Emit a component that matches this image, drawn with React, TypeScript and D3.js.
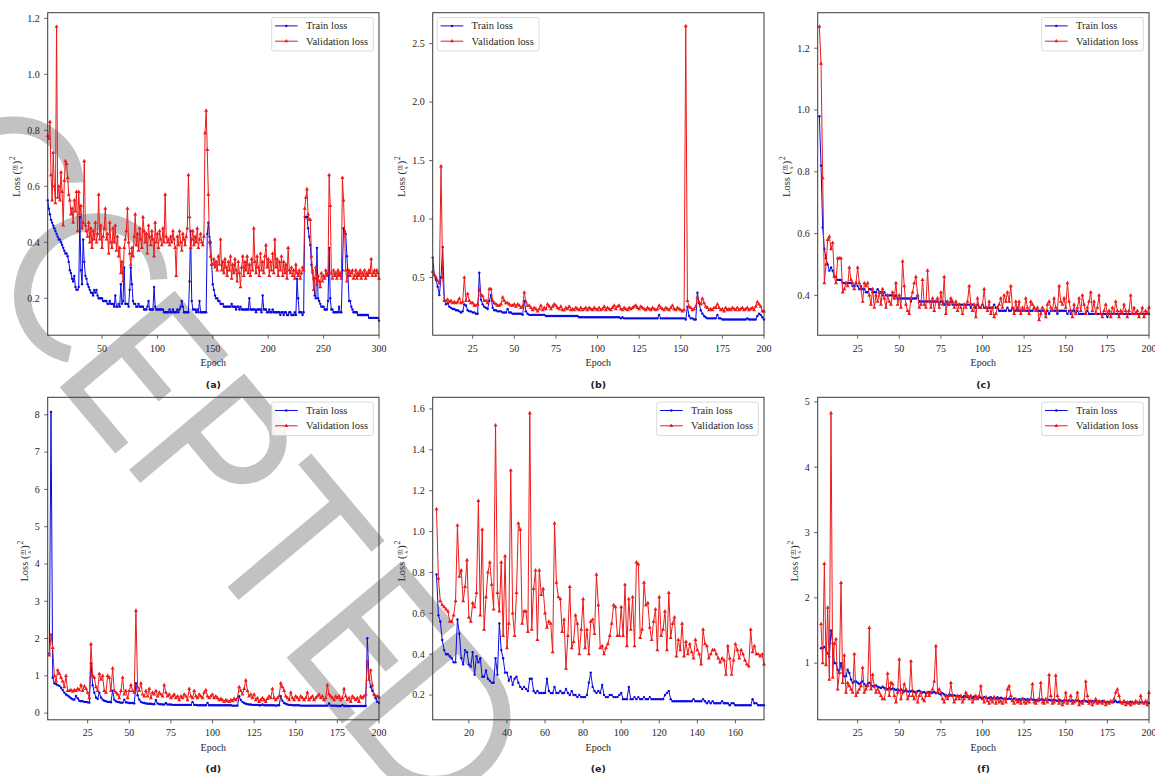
import * as d3 from "d3";

// ---- (a) 300 epochs, starting at epoch 1
const trainA = [
  0.55,0.52,0.50,0.48,0.47,0.46,0.45,0.44,0.43,0.42,
  0.41,0.41,0.40,0.39,0.38,0.37,0.36,0.36,0.35,0.33,
  0.30,0.29,0.27,0.26,0.28,0.24,0.23,0.23,0.24,0.49,
  0.30,0.25,0.41,0.33,0.28,0.27,0.25,0.24,0.23,0.22,
  0.22,0.21,0.23,0.22,0.23,0.21,0.20,0.20,0.20,0.20,
  0.19,0.19,0.19,0.19,0.18,0.18,0.19,0.18,0.18,0.18,
  0.17,0.21,0.17,0.17,0.18,0.17,0.25,0.18,0.19,0.31,
  0.18,0.18,0.18,0.17,0.23,0.31,0.25,0.19,0.18,0.18,
  0.17,0.17,0.18,0.17,0.17,0.17,0.17,0.16,0.16,0.16,
  0.17,0.19,0.16,0.16,0.16,0.16,0.24,0.17,0.16,0.16,
  0.16,0.16,0.16,0.16,0.16,0.15,0.15,0.15,0.15,0.15,
  0.16,0.15,0.15,0.16,0.15,0.15,0.15,0.16,0.15,0.16,
  0.17,0.19,0.17,0.15,0.15,0.15,0.15,0.15,0.26,0.44,
  0.19,0.16,0.16,0.16,0.15,0.16,0.15,0.19,0.15,0.15,
  0.15,0.15,0.15,0.15,0.43,0.47,0.42,0.40,0.32,0.25,
  0.23,0.21,0.20,0.20,0.19,0.19,0.18,0.18,0.18,0.17,
  0.17,0.17,0.17,0.17,0.17,0.17,0.18,0.17,0.17,0.17,
  0.16,0.17,0.17,0.16,0.17,0.16,0.16,0.16,0.16,0.16,
  0.16,0.16,0.20,0.16,0.16,0.16,0.16,0.16,0.15,0.16,
  0.16,0.16,0.16,0.15,0.21,0.16,0.16,0.16,0.15,0.15,
  0.16,0.15,0.15,0.16,0.15,0.15,0.15,0.15,0.15,0.15,
  0.14,0.15,0.15,0.14,0.15,0.15,0.14,0.14,0.15,0.15,
  0.14,0.14,0.14,0.15,0.14,0.27,0.20,0.15,0.15,0.15,
  0.14,0.15,0.49,0.49,0.49,0.45,0.42,0.39,0.32,0.29,
  0.27,0.21,0.20,0.38,0.20,0.19,0.18,0.17,0.17,0.17,
  0.16,0.16,0.16,0.19,0.38,0.20,0.16,0.16,0.15,0.15,
  0.15,0.15,0.15,0.17,0.15,0.15,0.30,0.45,0.44,0.43,
  0.35,0.28,0.19,0.19,0.17,0.16,0.15,0.15,0.15,0.15,
  0.14,0.14,0.14,0.14,0.14,0.14,0.14,0.14,0.14,0.14,
  0.13,0.13,0.13,0.13,0.13,0.13,0.13,0.13,0.13,0.12,
];
const valA = [
  0.78,0.77,0.83,0.64,0.55,0.72,0.60,0.54,1.17,0.56,
  0.60,0.55,0.65,0.58,0.46,0.62,0.69,0.68,0.63,0.57,
  0.55,0.50,0.52,0.47,0.55,0.51,0.58,0.44,0.58,0.50,
  0.53,0.45,0.47,0.69,0.46,0.44,0.42,0.47,0.40,0.45,
  0.38,0.44,0.41,0.47,0.40,0.43,0.57,0.41,0.46,0.38,
  0.42,0.45,0.52,0.41,0.43,0.36,0.47,0.40,0.38,0.45,
  0.40,0.46,0.37,0.42,0.35,0.38,0.29,0.33,0.26,0.38,
  0.41,0.44,0.52,0.40,0.36,0.32,0.38,0.35,0.42,0.50,
  0.39,0.43,0.37,0.45,0.41,0.38,0.49,0.44,0.40,0.43,
  0.36,0.46,0.42,0.39,0.44,0.41,0.35,0.47,0.40,0.43,
  0.38,0.44,0.41,0.39,0.45,0.40,0.57,0.42,0.40,0.41,
  0.39,0.42,0.40,0.44,0.41,0.38,0.28,0.42,0.39,0.44,
  0.40,0.37,0.43,0.41,0.39,0.42,0.45,0.64,0.49,0.38,
  0.41,0.44,0.39,0.42,0.40,0.45,0.38,0.41,0.43,0.40,
  0.39,0.42,0.79,0.87,0.73,0.57,0.40,0.35,0.32,0.32,
  0.34,0.31,0.33,0.30,0.35,0.32,0.41,0.30,0.33,0.29,
  0.34,0.31,0.28,0.33,0.30,0.35,0.27,0.32,0.29,0.34,
  0.30,0.26,0.33,0.29,0.24,0.31,0.35,0.28,0.33,0.30,
  0.35,0.29,0.32,0.28,0.34,0.30,0.45,0.33,0.29,0.35,
  0.31,0.28,0.36,0.30,0.33,0.29,0.35,0.39,0.31,0.34,
  0.28,0.33,0.30,0.36,0.29,0.41,0.31,0.34,0.28,0.33,
  0.30,0.35,0.28,0.33,0.29,0.32,0.27,0.38,0.30,0.29,
  0.31,0.28,0.30,0.27,0.32,0.29,0.28,0.30,0.27,0.29,
  0.31,0.30,0.52,0.56,0.59,0.50,0.48,0.48,0.35,0.30,
  0.23,0.27,0.31,0.25,0.28,0.26,0.24,0.29,0.26,0.28,
  0.27,0.30,0.28,0.29,0.64,0.53,0.29,0.27,0.30,0.28,
  0.29,0.27,0.30,0.28,0.29,0.27,0.63,0.55,0.43,0.30,
  0.26,0.29,0.30,0.28,0.29,0.30,0.27,0.28,0.30,0.27,
  0.29,0.28,0.30,0.27,0.29,0.28,0.30,0.27,0.29,0.28,
  0.30,0.29,0.34,0.28,0.29,0.30,0.28,0.30,0.29,0.27,
];

// ---- (b) 200 epochs, starting at epoch 1
const trainB = [
  0.67,0.52,0.48,0.42,0.35,0.50,0.76,0.30,0.27,0.28,
  0.25,0.24,0.23,0.23,0.22,0.22,0.21,0.20,0.21,0.27,
  0.26,0.22,0.21,0.21,0.20,0.20,0.19,0.19,0.54,0.31,
  0.27,0.25,0.24,0.23,0.30,0.35,0.24,0.22,0.22,0.21,
  0.21,0.21,0.20,0.20,0.20,0.23,0.20,0.20,0.19,0.19,
  0.19,0.19,0.19,0.19,0.18,0.30,0.21,0.19,0.18,0.18,
  0.18,0.18,0.18,0.18,0.18,0.18,0.18,0.18,0.17,0.17,
  0.17,0.17,0.17,0.17,0.17,0.17,0.17,0.17,0.17,0.17,
  0.17,0.17,0.17,0.17,0.17,0.17,0.17,0.17,0.16,0.16,
  0.16,0.16,0.16,0.16,0.16,0.16,0.16,0.16,0.16,0.16,
  0.16,0.16,0.16,0.16,0.16,0.16,0.16,0.16,0.16,0.16,
  0.16,0.16,0.16,0.15,0.16,0.15,0.15,0.15,0.15,0.15,
  0.15,0.15,0.15,0.15,0.15,0.15,0.15,0.15,0.15,0.15,
  0.15,0.15,0.15,0.15,0.15,0.15,0.18,0.15,0.15,0.15,
  0.15,0.15,0.15,0.15,0.15,0.15,0.15,0.15,0.15,0.15,
  0.15,0.15,0.14,0.25,0.17,0.15,0.15,0.14,0.14,0.37,
  0.28,0.22,0.19,0.17,0.16,0.15,0.15,0.15,0.15,0.15,
  0.15,0.18,0.15,0.15,0.14,0.14,0.14,0.14,0.14,0.14,
  0.14,0.14,0.14,0.14,0.14,0.14,0.14,0.14,0.14,0.15,
  0.14,0.14,0.14,0.14,0.14,0.17,0.19,0.18,0.16,0.14,
];
const valB = [
  0.55,0.52,0.50,0.47,0.45,1.45,0.50,0.30,0.30,0.31,
  0.29,0.30,0.28,0.29,0.28,0.29,0.32,0.28,0.29,0.50,
  0.30,0.36,0.30,0.28,0.28,0.26,0.26,0.27,0.40,0.35,
  0.34,0.30,0.30,0.28,0.40,0.40,0.30,0.28,0.27,0.26,
  0.26,0.27,0.33,0.30,0.28,0.28,0.27,0.26,0.26,0.27,
  0.25,0.27,0.26,0.24,0.25,0.37,0.29,0.26,0.26,0.24,
  0.22,0.24,0.23,0.21,0.23,0.26,0.22,0.24,0.23,0.27,
  0.25,0.23,0.25,0.27,0.26,0.24,0.23,0.25,0.22,0.22,
  0.24,0.23,0.25,0.22,0.23,0.22,0.24,0.23,0.22,0.24,
  0.22,0.23,0.24,0.22,0.24,0.23,0.22,0.24,0.23,0.22,
  0.24,0.22,0.23,0.25,0.22,0.24,0.23,0.22,0.24,0.26,
  0.23,0.25,0.26,0.23,0.22,0.24,0.23,0.22,0.24,0.23,
  0.24,0.25,0.26,0.24,0.23,0.25,0.24,0.23,0.22,0.24,
  0.23,0.22,0.24,0.23,0.22,0.23,0.26,0.24,0.23,0.22,
  0.24,0.23,0.22,0.24,0.26,0.23,0.22,0.24,0.23,0.22,
  0.21,0.22,2.65,0.30,0.25,0.24,0.22,0.23,0.25,0.33,
  0.29,0.27,0.32,0.28,0.25,0.24,0.22,0.23,0.22,0.24,
  0.24,0.27,0.24,0.22,0.23,0.21,0.24,0.22,0.23,0.22,
  0.24,0.23,0.22,0.24,0.22,0.23,0.24,0.22,0.23,0.24,
  0.22,0.23,0.24,0.22,0.25,0.29,0.27,0.25,0.21,0.21,
];

// ---- (c) epochs 2..200
const trainC = [
  0.98,0.82,0.62,0.55,0.52,0.50,0.48,0.49,0.48,0.46,
  0.46,0.45,0.45,0.45,0.44,0.44,0.44,0.44,0.44,0.44,
  0.43,0.43,0.44,0.43,0.42,0.43,0.42,0.42,0.41,0.41,
  0.42,0.42,0.41,0.41,0.41,0.42,0.41,0.41,0.40,0.41,
  0.40,0.40,0.40,0.40,0.40,0.39,0.40,0.39,0.39,0.39,
  0.39,0.39,0.39,0.39,0.39,0.38,0.39,0.39,0.39,0.40,
  0.38,0.38,0.38,0.38,0.38,0.38,0.38,0.38,0.38,0.38,
  0.38,0.38,0.37,0.38,0.38,0.37,0.38,0.37,0.37,0.38,
  0.37,0.37,0.37,0.37,0.37,0.37,0.37,0.37,0.37,0.37,
  0.37,0.36,0.37,0.37,0.36,0.37,0.36,0.36,0.37,0.36,
  0.36,0.36,0.36,0.36,0.36,0.37,0.36,0.36,0.35,0.35,
  0.35,0.35,0.35,0.36,0.35,0.35,0.36,0.35,0.35,0.36,
  0.35,0.35,0.35,0.35,0.35,0.35,0.35,0.35,0.35,0.36,
  0.35,0.35,0.35,0.35,0.35,0.35,0.34,0.35,0.34,0.35,
  0.35,0.35,0.35,0.34,0.35,0.35,0.35,0.35,0.35,0.34,
  0.35,0.34,0.35,0.35,0.34,0.35,0.34,0.34,0.34,0.34,
  0.34,0.35,0.34,0.34,0.34,0.34,0.34,0.34,0.34,0.34,
  0.34,0.34,0.34,0.33,0.34,0.34,0.34,0.34,0.34,0.34,
  0.34,0.34,0.34,0.34,0.34,0.34,0.34,0.34,0.34,0.34,
  0.34,0.34,0.34,0.34,0.34,0.34,0.34,0.34,0.34,
];
const valC = [
  1.27,1.15,0.78,0.44,0.50,0.58,0.59,0.55,0.57,0.46,
  0.44,0.52,0.52,0.52,0.41,0.42,0.44,0.43,0.49,0.45,
  0.44,0.42,0.44,0.49,0.44,0.42,0.38,0.44,0.43,0.44,
  0.40,0.37,0.42,0.36,0.40,0.38,0.41,0.37,0.42,0.39,
  0.36,0.40,0.38,0.37,0.41,0.39,0.44,0.37,0.40,0.36,
  0.51,0.43,0.37,0.35,0.34,0.39,0.41,0.44,0.46,0.40,
  0.36,0.37,0.45,0.37,0.36,0.48,0.38,0.36,0.39,0.35,
  0.38,0.39,0.36,0.41,0.37,0.46,0.34,0.38,0.37,0.39,
  0.38,0.36,0.38,0.35,0.37,0.36,0.34,0.37,0.36,0.38,
  0.43,0.37,0.35,0.37,0.33,0.39,0.36,0.36,0.37,0.42,
  0.36,0.35,0.38,0.34,0.36,0.33,0.34,0.36,0.37,0.39,
  0.36,0.40,0.38,0.41,0.38,0.43,0.36,0.34,0.38,0.35,
  0.38,0.34,0.36,0.35,0.39,0.36,0.34,0.38,0.37,0.36,
  0.35,0.36,0.32,0.34,0.36,0.35,0.33,0.37,0.38,0.36,
  0.35,0.39,0.36,0.35,0.43,0.38,0.37,0.39,0.36,0.44,
  0.38,0.35,0.33,0.37,0.34,0.36,0.39,0.35,0.40,0.37,
  0.34,0.36,0.38,0.41,0.35,0.38,0.34,0.36,0.40,0.34,
  0.33,0.35,0.37,0.34,0.35,0.33,0.36,0.34,0.38,0.35,
  0.33,0.35,0.34,0.37,0.35,0.33,0.35,0.40,0.34,0.36,
  0.34,0.35,0.33,0.34,0.36,0.33,0.35,0.34,0.36,
];

// ---- (d) epochs 2..200
const trainD = [
  1.60,8.08,0.95,0.80,0.78,0.75,0.73,0.68,0.62,0.55,
  0.50,0.47,0.44,0.40,0.37,0.36,0.46,0.40,0.33,0.32,
  0.32,0.30,0.30,0.29,0.28,1.34,0.75,0.55,0.42,0.38,
  0.55,0.42,0.36,0.33,0.32,0.30,0.30,0.29,0.60,0.36,
  0.32,0.30,0.29,0.28,0.28,0.36,0.29,0.28,0.27,0.27,
  0.27,0.26,0.80,0.48,0.36,0.30,0.28,0.27,0.26,0.25,
  0.25,0.25,0.24,0.24,0.35,0.26,0.24,0.24,0.23,0.23,
  0.27,0.23,0.23,0.23,0.22,0.22,0.22,0.22,0.22,0.22,
  0.22,0.22,0.22,0.22,0.22,0.22,0.30,0.22,0.22,0.21,
  0.21,0.21,0.21,0.21,0.21,0.27,0.21,0.21,0.21,0.21,
  0.21,0.21,0.21,0.21,0.21,0.21,0.21,0.21,0.21,0.21,
  0.20,0.20,0.20,0.20,0.45,0.35,0.30,0.27,0.25,0.24,
  0.23,0.23,0.22,0.22,0.22,0.22,0.21,0.21,0.23,0.21,
  0.21,0.21,0.21,0.21,0.21,0.21,0.20,0.21,0.21,0.45,
  0.33,0.27,0.25,0.23,0.22,0.22,0.21,0.21,0.21,0.21,
  0.21,0.20,0.20,0.20,0.20,0.20,0.20,0.20,0.20,0.20,
  0.20,0.20,0.20,0.20,0.20,0.20,0.20,0.20,0.26,0.20,
  0.20,0.20,0.20,0.19,0.19,0.19,0.22,0.19,0.19,0.19,
  0.19,0.19,0.19,0.19,0.19,0.19,0.19,0.19,0.19,0.19,
  0.19,2.01,0.95,0.70,0.60,0.50,0.40,0.30,0.27,
];
const valD = [
  1.55,2.10,1.75,1.00,0.85,1.15,1.05,0.95,0.85,0.70,
  1.00,0.60,0.60,0.62,0.58,0.62,0.60,0.65,0.62,0.75,
  0.60,0.72,0.65,0.55,0.40,1.85,1.00,0.95,0.70,0.60,
  1.05,0.90,1.00,0.60,0.55,1.00,0.95,0.60,1.20,0.60,
  0.55,0.50,0.40,0.60,0.95,0.50,0.60,0.40,0.60,0.75,
  0.60,0.55,2.75,0.70,0.60,0.80,0.50,0.45,0.60,0.45,
  0.65,0.40,0.55,0.50,0.60,0.45,0.55,0.50,0.45,0.75,
  0.55,0.45,0.50,0.40,0.45,0.50,0.40,0.45,0.35,0.45,
  0.40,0.50,0.45,0.35,0.65,0.45,0.40,0.60,0.45,0.40,
  0.50,0.45,0.40,0.55,0.62,0.45,0.40,0.45,0.50,0.40,
  0.45,0.40,0.35,0.38,0.35,0.30,0.35,0.32,0.30,0.35,
  0.32,0.38,0.35,0.40,0.70,0.60,0.50,0.65,0.88,0.60,
  0.45,0.50,0.40,0.50,0.35,0.40,0.30,0.35,0.40,0.35,
  0.30,0.38,0.45,0.40,0.65,0.40,0.35,0.40,0.45,0.80,
  0.70,0.60,0.45,0.40,0.35,0.55,0.40,0.35,0.45,0.40,
  0.35,0.45,0.40,0.35,0.40,0.55,0.35,0.40,0.45,0.35,
  0.40,0.45,0.50,0.40,0.45,0.35,0.40,0.75,0.50,0.45,
  0.40,0.35,0.45,0.40,0.45,0.35,0.40,0.65,0.45,0.35,
  0.40,0.30,0.45,0.40,0.35,0.40,0.30,0.45,0.40,0.45,
  0.50,1.38,0.90,1.15,0.75,0.50,0.45,0.45,0.42,
];

// ---- (e) epochs 3..175
const trainE = [
  0.79,0.59,0.56,0.47,0.42,0.40,0.40,0.39,0.38,0.36,
  0.36,0.57,0.50,0.38,0.35,0.42,0.41,0.35,0.34,0.41,
  0.30,0.39,0.36,0.38,0.29,0.29,0.32,0.28,0.27,0.26,
  0.26,0.38,0.30,0.55,0.42,0.38,0.31,0.31,0.27,0.29,
  0.25,0.28,0.29,0.26,0.24,0.23,0.24,0.23,0.22,0.28,
  0.28,0.22,0.21,0.22,0.21,0.21,0.21,0.21,0.28,0.22,
  0.21,0.21,0.24,0.21,0.21,0.22,0.21,0.21,0.23,0.21,
  0.20,0.22,0.20,0.20,0.19,0.20,0.19,0.19,0.19,0.20,
  0.26,0.31,0.24,0.22,0.21,0.22,0.21,0.25,0.20,0.19,
  0.19,0.20,0.20,0.19,0.19,0.19,0.20,0.21,0.18,0.18,
  0.18,0.24,0.18,0.18,0.19,0.18,0.19,0.18,0.18,0.19,
  0.18,0.18,0.19,0.18,0.18,0.18,0.18,0.18,0.18,0.18,
  0.20,0.21,0.22,0.18,0.17,0.17,0.17,0.17,0.17,0.17,
  0.17,0.17,0.17,0.17,0.17,0.18,0.17,0.17,0.17,0.17,
  0.18,0.17,0.16,0.17,0.16,0.17,0.16,0.16,0.16,0.16,
  0.17,0.16,0.16,0.16,0.15,0.16,0.16,0.15,0.15,0.15,
  0.15,0.15,0.15,0.15,0.15,0.15,0.18,0.16,0.16,0.15,
  0.15,0.15,0.15,
];
const valE = [
  1.11,0.77,0.66,0.64,0.63,0.62,0.61,0.56,0.56,0.59,
  0.66,1.03,0.78,0.81,0.66,0.73,0.86,0.58,0.56,0.65,
  0.63,0.70,1.15,0.59,1.01,0.52,0.68,0.80,0.85,0.74,
  0.62,1.52,0.70,0.61,0.85,0.49,0.88,0.43,0.55,1.30,
  0.60,0.49,0.70,1.04,1.01,0.55,0.61,0.61,0.51,1.58,
  0.52,0.72,0.81,0.47,0.81,0.69,0.72,0.60,0.53,0.56,
  0.55,0.41,1.04,0.75,0.68,0.67,0.51,0.57,0.33,0.49,
  0.73,0.43,0.46,0.59,0.55,0.40,0.52,0.67,0.43,0.52,
  0.40,0.56,0.57,0.50,0.79,0.64,0.43,0.44,0.40,0.43,
  0.45,0.49,0.55,0.64,0.63,0.49,0.49,0.63,0.49,0.74,
  0.44,0.67,0.52,0.68,0.44,0.85,0.84,0.48,0.52,0.75,
  0.64,0.65,0.53,0.47,0.56,0.62,0.42,0.68,0.49,0.52,
  0.61,0.42,0.70,0.48,0.55,0.58,0.39,0.47,0.42,0.55,
  0.39,0.46,0.40,0.45,0.41,0.38,0.47,0.42,0.40,0.35,
  0.52,0.45,0.44,0.38,0.40,0.42,0.42,0.40,0.38,0.36,
  0.38,0.37,0.30,0.44,0.38,0.30,0.37,0.45,0.42,0.38,
  0.42,0.40,0.37,0.35,0.34,0.52,0.41,0.44,0.40,0.40,
  0.39,0.40,0.35,
];

// ---- (f) epochs 3..200
const trainF = [
  1.23,1.23,1.25,1.20,1.15,1.10,1.50,1.30,1.00,1.00,
  0.90,0.85,1.00,0.85,0.80,0.80,0.90,0.85,0.75,0.70,
  0.72,0.72,0.70,0.68,0.70,0.72,0.68,0.65,0.68,0.70,
  0.66,0.65,0.64,0.66,0.64,0.63,0.62,0.64,0.62,0.61,
  0.60,0.62,0.60,0.61,0.60,0.59,0.60,0.58,0.60,0.58,
  0.57,0.58,0.57,0.56,0.57,0.58,0.56,0.55,0.57,0.58,
  0.56,0.55,0.56,0.54,0.55,0.56,0.54,0.55,0.56,0.54,
  0.55,0.53,0.52,0.54,0.52,0.51,0.50,0.52,0.51,0.50,
  0.51,0.50,0.49,0.50,0.49,0.48,0.50,0.49,0.48,0.49,
  0.48,0.47,0.49,0.48,0.47,0.48,0.47,0.46,0.48,0.47,
  0.46,0.47,0.48,0.46,0.47,0.46,0.48,0.46,0.47,0.46,
  0.45,0.46,0.45,0.46,0.45,0.44,0.46,0.45,0.44,0.45,
  0.44,0.46,0.45,0.44,0.45,0.44,0.45,0.44,0.44,0.43,
  0.44,0.43,0.44,0.45,0.43,0.44,0.43,0.44,0.43,0.43,
  0.44,0.43,0.42,0.44,0.43,0.42,0.43,0.43,0.42,0.43,
  0.42,0.43,0.42,0.42,0.43,0.42,0.41,0.42,0.43,0.42,
  0.41,0.42,0.41,0.42,0.41,0.42,0.41,0.40,0.41,0.42,
  0.41,0.40,0.41,0.40,0.41,0.40,0.41,0.42,0.40,0.41,
  0.40,0.40,0.41,0.40,0.39,0.40,0.41,0.40,0.39,0.40,
  0.40,0.39,0.40,0.40,0.39,0.40,0.40,0.39,
];
const valF = [
  1.60,1.00,2.52,0.97,1.85,0.75,4.83,0.78,1.30,1.37,
  0.60,0.85,2.23,0.70,1.12,0.55,0.70,0.65,0.60,0.55,
  1.14,0.50,0.55,0.60,0.65,0.93,0.55,0.60,0.65,1.54,
  0.60,0.82,0.65,0.55,0.60,0.55,0.50,0.45,0.45,0.60,
  0.84,0.50,0.70,0.68,0.50,0.40,0.55,1.06,0.45,0.55,
  0.68,0.60,0.45,0.50,1.03,0.50,0.45,0.55,0.40,0.50,
  0.55,0.45,0.42,0.50,0.55,0.50,0.55,0.60,0.72,1.26,
  0.55,0.60,0.55,0.45,0.40,0.50,0.45,0.50,0.70,0.50,
  0.40,0.45,0.50,0.45,0.50,0.40,0.45,0.55,0.50,0.45,
  0.50,0.40,0.45,0.50,0.45,0.50,0.65,0.45,0.40,0.48,
  0.42,0.38,0.45,0.40,0.48,0.38,0.45,0.40,0.42,0.38,
  0.45,0.40,0.60,0.65,0.50,0.42,0.38,0.45,0.40,0.42,
  0.38,0.45,0.40,0.38,0.42,0.40,0.45,0.68,0.40,0.38,
  0.42,0.45,0.70,0.40,0.38,0.45,0.40,0.82,0.50,0.38,
  0.40,0.81,0.50,0.38,0.42,0.36,0.40,0.55,0.38,0.42,
  0.50,0.38,0.40,0.42,0.55,0.36,0.40,0.38,0.42,0.72,
  0.50,0.38,0.42,0.36,0.40,0.45,0.38,0.42,0.40,0.38,
  0.42,0.36,0.40,0.38,0.42,0.40,0.45,0.55,0.60,0.50,
  0.40,0.38,0.42,0.36,0.40,0.38,0.36,0.40,0.38,0.42,
  0.40,0.38,0.50,0.40,0.38,0.42,0.36,0.55,
];

const ticks200 = [25, 50, 75, 100, 125, 150, 175, 200];

type Panel = {
  tag: string;
  col: number;
  row: number;
  start: number;
  train: number[];
  val: number[];
  xDomain: [number, number];
  yDomain: [number, number];
  xTicks: number[];
  yTicks: number[];
  yFmt: string;
  legendLeft?: boolean;
};

const panels: Panel[] = [
  { tag: "a", col: 0, row: 0, start: 1, train: trainA, val: valA, xDomain: [1, 300], yDomain: [0.068, 1.22],
    xTicks: [50, 100, 150, 200, 250, 300], yTicks: [0.2, 0.4, 0.6, 0.8, 1.0, 1.2], yFmt: ".1f" },
  { tag: "b", col: 1, row: 0, start: 1, train: trainB, val: valB, xDomain: [1, 200], yDomain: [0.006, 2.765],
    xTicks: ticks200, yTicks: [0.5, 1.0, 1.5, 2.0, 2.5], yFmt: ".1f", legendLeft: true },
  { tag: "c", col: 2, row: 0, start: 2, train: trainC, val: valC, xDomain: [1, 200], yDomain: [0.271, 1.315],
    xTicks: ticks200, yTicks: [0.4, 0.6, 0.8, 1.0, 1.2], yFmt: ".1f" },
  { tag: "d", col: 0, row: 1, start: 2, train: trainD, val: valD, xDomain: [1, 200], yDomain: [-0.18, 8.47],
    xTicks: ticks200, yTicks: [0, 1, 2, 3, 4, 5, 6, 7, 8], yFmt: "d" },
  { tag: "e", col: 1, row: 1, start: 3, train: trainE, val: valE, xDomain: [1, 175], yDomain: [0.079, 1.657],
    xTicks: [20, 40, 60, 80, 100, 120, 140, 160], yTicks: [0.2, 0.4, 0.6, 0.8, 1.0, 1.2, 1.4, 1.6], yFmt: ".1f" },
  { tag: "f", col: 2, row: 1, start: 3, train: trainF, val: valF, xDomain: [1, 200], yDomain: [0.133, 5.07],
    xTicks: ticks200, yTicks: [1, 2, 3, 4, 5], yFmt: "d" },
];

const COL_LEFT = [47.7, 432.7, 817.7];
const ROW_TOP = [12.7, 397.3];
const PW = 331.3;
const PH = 322.5;
const SERIF = "'Liberation Serif', 'Times New Roman', serif";
const BLUE = "#0b0be0";
const RED = "#ee1a1a";
const AXIS = "#3a3a3a";

const triangle = d3.symbol(d3.symbolTriangle, 7)() ?? "";

function LossPanel({ p }: { p: Panel }) {
  const left = COL_LEFT[p.col];
  const top = ROW_TOP[p.row];
  const x = d3.scaleLinear().domain(p.xDomain).range([0, PW]);
  const y = d3.scaleLinear().domain(p.yDomain).range([PH, 0]);
  const fmt = d3.format(p.yFmt);
  const line = d3
    .line<number>()
    .x((_, i) => x(p.start + i))
    .y((d) => y(d));
  const labelX = p.yFmt === "d" ? -19.5 : -27.7;
  const legX = p.legendLeft ? 4.6 : PW - 5.7 - 101.6;

  return (
    <g transform={`translate(${left},${top})`}>
      {/* series: train first, validation drawn above it */}
      <path d={line(p.train) ?? ""} fill="none" stroke={BLUE} strokeWidth={1} />
      {p.train.map((v, i) => (
        <circle key={`t${i}`} cx={x(p.start + i)} cy={y(v)} r={1.2} fill={BLUE} />
      ))}
      <path d={line(p.val) ?? ""} fill="none" stroke={RED} strokeWidth={1} />
      {p.val.map((v, i) => (
        <path key={`v${i}`} d={triangle} transform={`translate(${x(p.start + i)},${y(v)})`} fill={RED} />
      ))}

      {/* frame + ticks */}
      <rect x={0} y={0} width={PW} height={PH} fill="none" stroke={AXIS} strokeWidth={1} />
      {p.yTicks.map((t) => (
        <g key={`y${t}`} transform={`translate(0,${y(t)})`}>
          <line x1={-3.5} x2={0} stroke={AXIS} strokeWidth={0.8} />
          <text x={-8} dy="0.33em" textAnchor="end" fontFamily={SERIF} fontSize={10} fill="#262626">
            {fmt(t)}
          </text>
        </g>
      ))}
      {p.xTicks.map((t) => (
        <g key={`x${t}`} transform={`translate(${x(t)},${PH})`}>
          <line y1={0} y2={3.5} stroke={AXIS} strokeWidth={0.8} />
          <text y={16.5} textAnchor="middle" fontFamily={SERIF} fontSize={10} fill="#262626">
            {t}
          </text>
        </g>
      ))}

      {/* axis titles */}
      <text x={PW / 2} y={PH + 31} textAnchor="middle" fontFamily={SERIF} fontSize={10} fill="#262626">
        Epoch
      </text>
      <g transform={`translate(${labelX},${PH / 2}) rotate(-90)`} fontFamily={SERIF} fill="#262626">
        <text x={-23} y={0} fontSize={10.5}>Loss (</text>
        <text x={6.3} y={-3.8} fontSize={6.5} textAnchor="middle">m</text>
        <line x1={3.6} x2={9} y1={-2.8} y2={-2.8} stroke="#262626" strokeWidth={0.5} />
        <text x={6.3} y={2.6} fontSize={6.5} textAnchor="middle">s</text>
        <text x={9.8} y={0} fontSize={10.5}>)</text>
        <text x={14} y={-5.5} fontSize={7.5}>2</text>
      </g>
      <text x={PW / 2} y={PH + 52.5} textAnchor="middle" fontFamily="'DejaVu Sans', sans-serif"
        fontWeight="bold" fontSize={9.5} fill="#222">
        ({p.tag})
      </text>

      {/* legend */}
      <g transform={`translate(${legX},4.8)`}>
        <rect x={0} y={0} width={101.6} height={33.4} rx={2} fill="#fff" fillOpacity={0.85}
          stroke="#d0d0d0" strokeWidth={0.8} />
        <line x1={3.3} x2={26} y1={8.4} y2={8.4} stroke={BLUE} strokeWidth={1} />
        <circle cx={14.6} cy={8.4} r={1.2} fill={BLUE} />
        <text x={34.3} y={8.4} dy="0.33em" fontFamily={SERIF} fontSize={10.5} fill="#262626">Train loss</text>
        <line x1={3.3} x2={26} y1={23.7} y2={23.7} stroke={RED} strokeWidth={1} />
        <path d={triangle} transform="translate(14.6,23.7)" fill={RED} />
        <text x={34.3} y={23.7} dy="0.33em" fontFamily={SERIF} fontSize={10.5} fill="#262626">Validation loss</text>
      </g>
    </g>
  );
}

// Diagonal "ACCEPTED" watermark, drawn as stroked letter skeletons.
// at = position along the slanted baseline, lift = offset above it.
const WM_LETTERS = [
  { ch: "A", at: -775, lift: 0 },
  { ch: "C", at: -635, lift: 10 },
  { ch: "C", at: -507, lift: 12 },
  { ch: "E", at: -443, lift: 0 },
  { ch: "P", at: -335, lift: 0 },
  { ch: "T", at: -182, lift: 0 },
  { ch: "E", at: -90, lift: 0 },
  { ch: "D", at: 0, lift: 0 },
];

function glyph(ch: string, s: number, lift: number): string {
  const H = 150;
  const m = 8.5;
  const t = H - m;
  switch (ch) {
    case "A":
      return `M${s - 58},0 L${s},${-H} L${s + 58},0 M${s - 40},-45 L${s + 40},-45`;
    case "C": {
      const rx = 64, ry = 71, cy = -H / 2 - lift;
      const a = (55 * Math.PI) / 180;
      const x1 = s + rx * Math.cos(a);
      return `M${x1},${cy - ry * Math.sin(a)} A${rx},${ry} 0 1 0 ${x1},${cy + ry * Math.sin(a)}`;
    }
    case "E":
      return `M${s},0 L${s},${-H} M${s - m},${-t} L${s + 75},${-t} M${s},${-H / 2} L${s + 66},${-H / 2} M${s - m},${-m} L${s + 78},${-m}`;
    case "P":
      return `M${s},0 L${s},${-H} M${s - m},${-t} L${s + 42},${-t} A35,35.5 0 0 1 ${s + 42},-70.5 L${s},-70.5`;
    case "T":
      return `M${s - 57},${-t} L${s + 57},${-t} M${s},0 L${s},${-t}`;
    case "D":
      return `M${s},0 L${s},${-H} M${s - m},${-t} L${s + 45},${-t} A64,66.5 0 0 1 ${s + 45},${-m} L${s - m},${-m}`;
    default:
      return "";
  }
}

function Watermark() {
  return (
    <g transform="translate(350,733) rotate(50)" fill="none" stroke="#c2c2c2" strokeWidth={17}
      strokeLinecap="butt" strokeLinejoin="miter">
      {WM_LETTERS.map((l, i) => (
        <path key={i} d={glyph(l.ch, l.at, l.lift)} />
      ))}
    </g>
  );
}

export default function App() {
  return (
    <div style={{ position: "absolute", left: 0, top: 0 }}>
      <svg width={1155} height={776} viewBox="0 0 1155 776" style={{ display: "block", background: "#fff" }}>
        <Watermark />
        {panels.map((p) => (
          <LossPanel key={p.tag} p={p} />
        ))}
      </svg>
    </div>
  );
}
